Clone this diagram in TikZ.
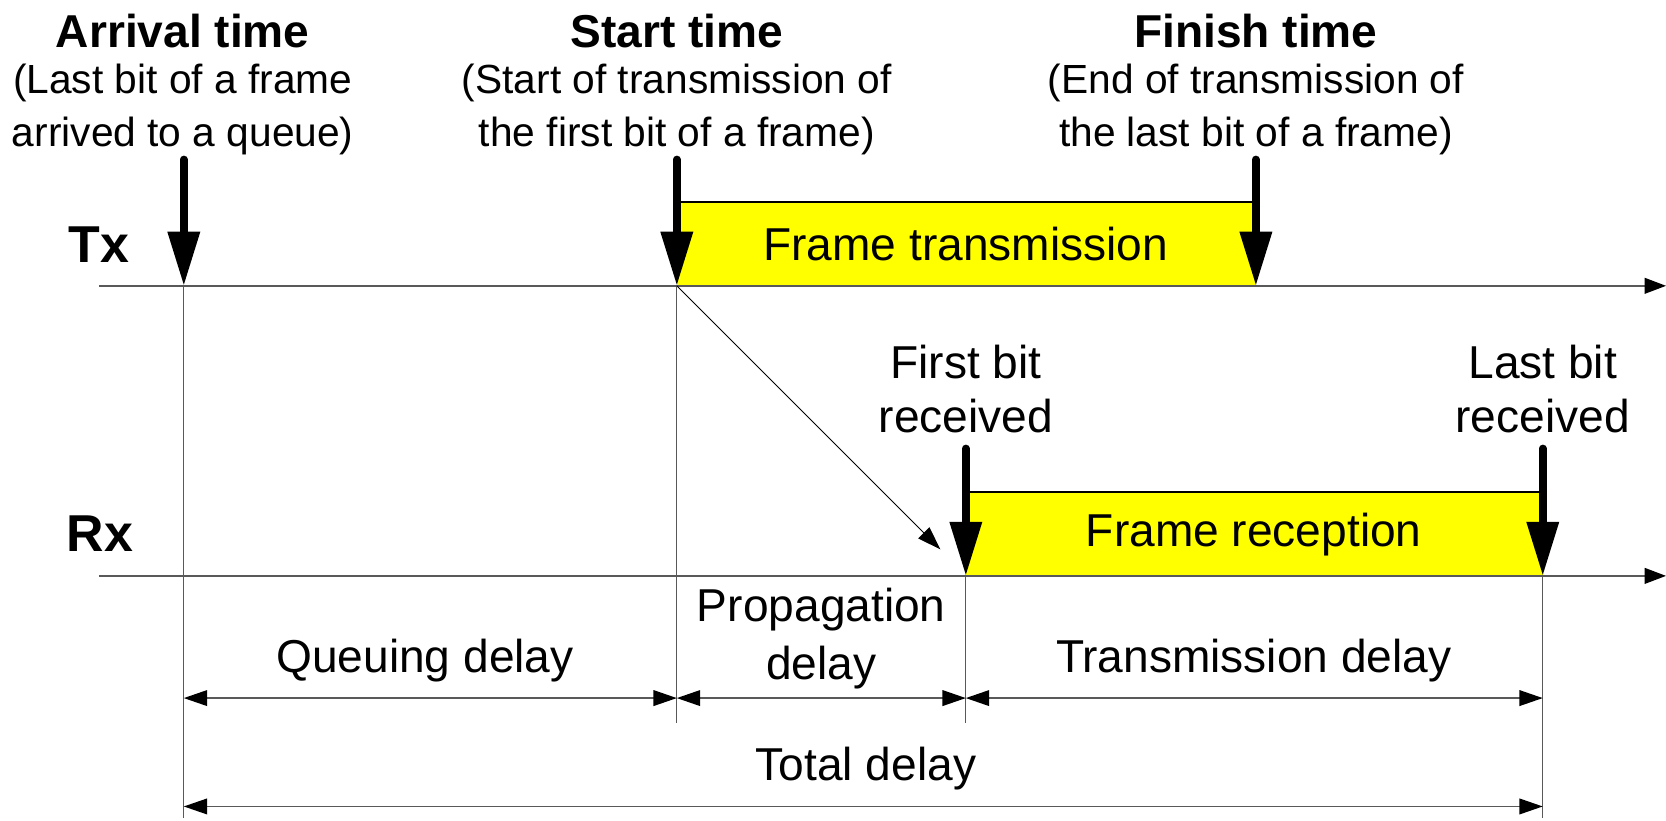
\documentclass[tikz,border=0pt]{standalone}
\usepackage{fontspec}
\setmainfont{Liberation Sans}
\usetikzlibrary{arrows.meta}

\begin{document}
\begin{tikzpicture}[x=0.02cm, y=-0.02cm,
    lbl/.style={font=\fontsize{24.7}{29}\selectfont, inner sep=0pt, align=center},
    sub/.style={font=\fontsize{21.8}{27.9}\selectfont, inner sep=0pt, align=center},
    hdr/.style={lbl, font=\fontsize{24.7}{28.2}\selectfont\bfseries},
    chan/.style={lbl, font=\fontsize{27.8}{30}\selectfont\bfseries},
    axis/.style={draw=black!65, line width=0.8pt, -{Triangle[length=11.5pt,width=8.5pt,color=black]}},
    guide/.style={draw=black!65, line width=0.7pt},
    event/.style={line width=4pt, line cap=round, -{Triangle[length=29pt,width=16.5pt]}},
    dim/.style={draw=black!65, line width=0.8pt, {Triangle[length=12.5pt,width=8.4pt,color=black]}-{Triangle[length=12.5pt,width=8.4pt,color=black]}},
    prop/.style={draw=black, line width=0.5pt, -{Triangle[length=12.5pt,width=8.4pt]}},
    band/.style={fill={rgb,255:red,255;green,255;blue,0}}
  ]
  \useasboundingbox (0,0) rectangle (1568,772);

  % time lines
  \coordinate (txs) at (93,269);  \coordinate (txe) at (1568,269);
  \coordinate (rxs) at (93,542);  \coordinate (rxe) at (1568,542);

  % event instants
  \coordinate (arr) at (173,269); \coordinate (arrtop) at (173,150); \coordinate (arrbot) at (173,770);
  \coordinate (st)  at (637,269); \coordinate (sttop)  at (637,150); \coordinate (stbot)  at (637,680);
  \coordinate (fin) at (1182,269);\coordinate (fintop) at (1182,150);
  \coordinate (fb)  at (909,542); \coordinate (fbtop)  at (909,422); \coordinate (fbbot)  at (909,680);
  \coordinate (lb)  at (1452,542);\coordinate (lbtop)  at (1452,422); \coordinate (lbbot)  at (1452,770);
  \coordinate (proptip) at (885,517);

  % dimension rows
  \coordinate (row1) at (0,657);
  \coordinate (row2) at (0,759);

  % yellow bands
  \fill[band] (st) rectangle (fin |- 0,190);
  \draw[line width=0.7pt] (st |- 0,190) -- (fin |- 0,190);
  \fill[band] (fb) rectangle (lb |- 0,463);
  \draw[line width=0.7pt] (fb |- 0,463) -- (lb |- 0,463);
  \node[lbl] (txband) at (909,230) {Frame transmission};
  \node[lbl] (rxband) at (1180,503) {Frame reception};

  % guide lines
  \draw[guide] (arr) -- (arrbot);
  \draw[guide] (st) -- (stbot);
  \draw[guide] (fb) -- (fbbot);
  \draw[guide] (lb) -- (lbbot);

  % axes
  \draw[axis] (txs) -- (txe);
  \draw[axis] (rxs) -- (rxe);
  \node[chan] (tx) at (93,230) {Tx};
  \node[chan] (rx) at (94,502) {Rx};

  % propagation of the first bit
  \draw[prop] (st) -- (proptip);

  % event arrows
  \draw[event] (arrtop) -- (arr);
  \draw[event] (sttop) -- (st);
  \draw[event] (fintop) -- (fin);
  \draw[event] (fbtop) -- (fb);
  \draw[event] (lbtop) -- (lb);

  % event labels
  \node[hdr] (arrhdr) at (172,29) {Arrival time};
  \node[sub] (arrsub) at (172,103) {(Last bit of a frame\\arrived to a queue)};
  \node[hdr] (sthdr)  at (637,29) {Start time};
  \node[sub] (stsub)  at (637,103) {(Start of transmission of\\the first bit of a frame)};
  \node[hdr] (finhdr) at (1182,29) {Finish time};
  \node[sub] (finsub) at (1182,103) {(End of transmission of\\the last bit of a frame)};
  \node[lbl] (fblbl)  at (909,366) {First bit\\received};
  \node[lbl] (lblbl)  at (1452,366) {Last bit\\received};

  % delays
  \draw[dim] (arr |- row1) -- (st |- row1);
  \draw[dim] (st |- row1) -- (fb |- row1);
  \draw[dim] (fb |- row1) -- (lb |- row1);
  \draw[dim] (arr |- row2) -- (lb |- row2);
  \node[lbl] (qd) at (400,622) {Queuing delay};
  \node[lbl, font=\fontsize{24.7}{31}\selectfont] (pd) at (773,601) {Propagation\\delay};
  \node[lbl] (td) at (1180,622) {Transmission delay};
  \node[lbl] (tot) at (815,723) {Total delay};
\end{tikzpicture}
\end{document}
